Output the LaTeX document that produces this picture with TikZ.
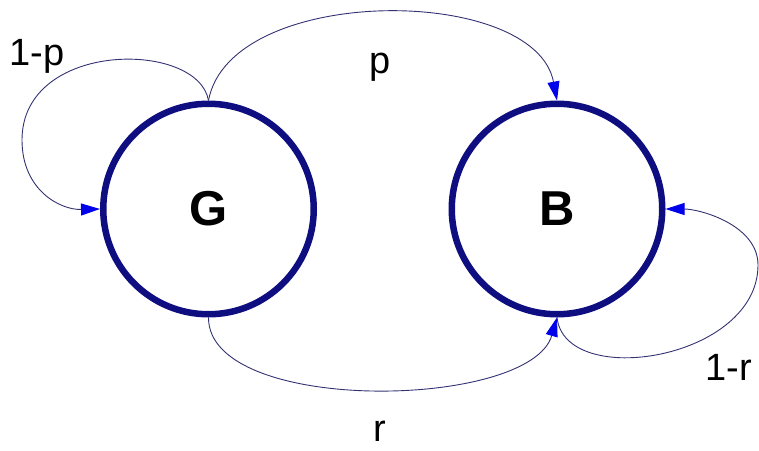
\documentclass[tikz,border=0pt]{standalone}
\usepackage{fontspec}
\setmainfont{Liberation Sans}
\usetikzlibrary{arrows.meta}
\definecolor{statenavy}{RGB}{14,14,128}
\definecolor{edgenavy}{RGB}{50,50,115}
\definecolor{tipblue}{RGB}{0,0,235}
\tikzset{
  state/.style={circle, draw=statenavy, line width=6.5pt, minimum size=210.5pt,
    inner sep=0pt, outer sep=3.25pt, font=\fontsize{49}{50}\selectfont\bfseries},
  trans/.style={draw=edgenavy, line width=0.9pt,
    -{Triangle[length=19pt,width=12pt,color=tipblue]}},
  prob/.style={anchor=base, inner sep=0pt, font=\fontsize{38}{40}\selectfont},
}
\begin{document}
\begin{tikzpicture}[x=1pt,y=-1pt]
\useasboundingbox (0,0) rectangle (759,450);
\node[state] (G) at (208.5,209) {G};
\node[state] (B) at (557,209) {B};
\coordinate (lp) at (22,140);
\coordinate (rp) at (758,265);
% p
\draw[trans] (G.north) .. controls (230,-16) and (535,-16) .. (B.north);
% 1-p
\draw[trans] (G.north) .. controls (198,40) and (22,40) .. (lp)
  .. controls (22,190) and (60,210) .. (G.west);
% r
\draw[trans] (G.south) .. controls (208,415) and (530,410) .. (B.south);
% 1-r
\draw[trans] (B.south) .. controls (565,390) and (758,360) .. (rp)
  .. controls (758,225) and (700,209) .. (B.east);
\node[prob] (lp1) at (37,65) {1-p};
\node[prob] (lpp) at (380,73) {p};
\node[prob] (lr) at (380,441) {r};
\node[prob] (lr1) at (728.5,380) {1-r};
\end{tikzpicture}
\end{document}
